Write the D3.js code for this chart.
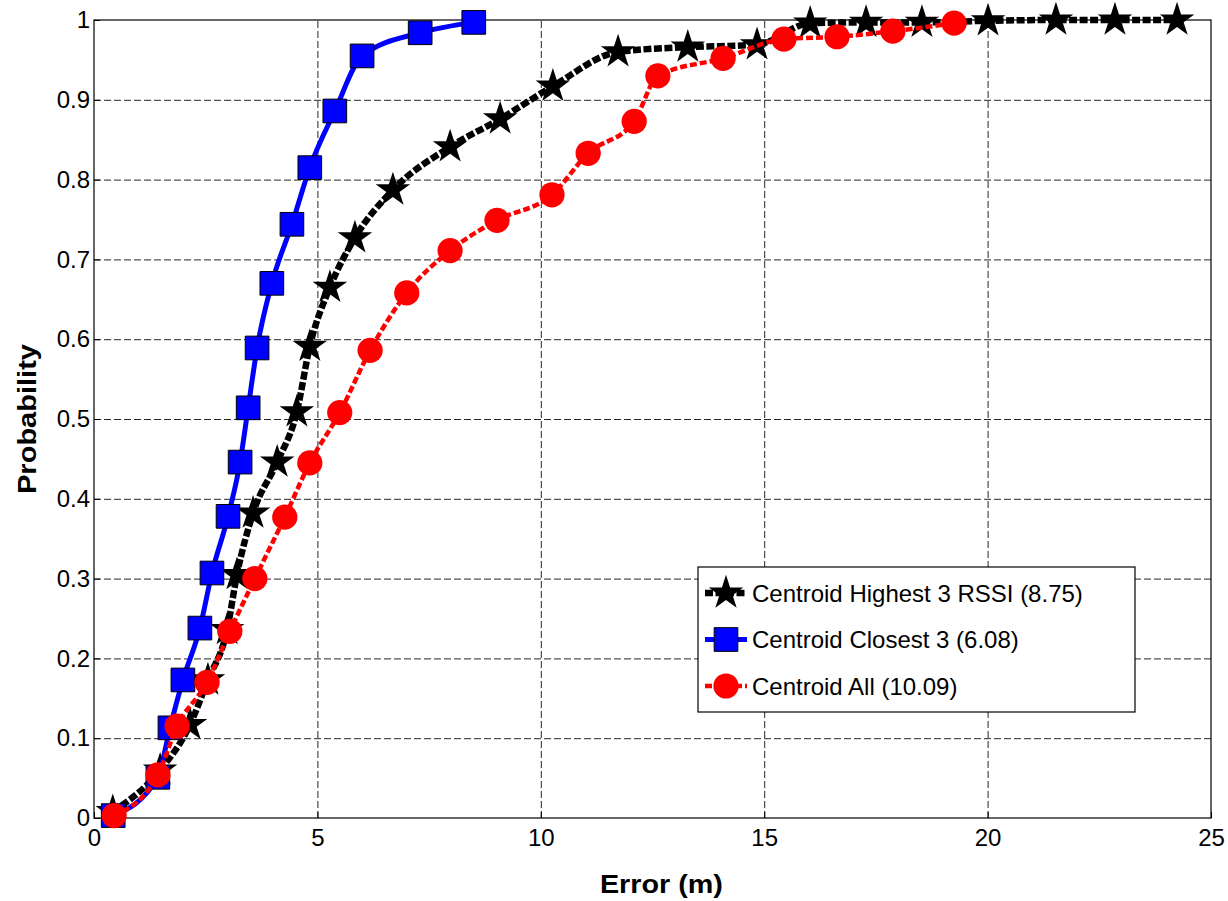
<!DOCTYPE html>
<html>
<head>
<meta charset="utf-8">
<script src="https://cdn.jsdelivr.net/npm/d3@7"></script>
<style>
body { margin: 0; background: #fff; }
svg text { font-family: "Liberation Sans", Arial, Helvetica, sans-serif; fill: #000; }
</style>
</head>
<body>
<svg id="chart"></svg>
<script>
const xTicks = [0, 5, 10, 15, 20, 25];
const yTicks = [0, 0.1, 0.2, 0.3, 0.4, 0.5, 0.6, 0.7, 0.8, 0.9, 1];
const yTickLabels = ['0', '0.1', '0.2', '0.3', '0.4', '0.5', '0.6', '0.7', '0.8', '0.9', '1'];

// Centroid Highest 3 RSSI
const highestErr = [0.42, 1.48, 2.15, 2.55, 2.98, 3.2, 3.56, 4.1, 4.54, 4.83, 5.28, 5.84, 6.69, 7.97, 9.09, 10.27, 11.73, 13.29, 14.84, 16.03, 17.28, 18.53, 20.01, 21.53, 22.85, 24.24];
const highestProb = [0.008, 0.06, 0.117, 0.173, 0.236, 0.305, 0.382, 0.446, 0.509, 0.591, 0.665, 0.727, 0.787, 0.841, 0.876, 0.917, 0.96, 0.966, 0.969, 0.996, 0.997, 0.997, 0.999, 1, 1, 1];

// Centroid Closest 3
const closestErr = [0.43, 1.43, 1.7, 1.99, 2.37, 2.64, 3.0, 3.27, 3.45, 3.65, 3.98, 4.43, 4.83, 5.39, 6.0, 7.3, 8.5];
const closestProb = [0.003, 0.051, 0.113, 0.173, 0.238, 0.307, 0.378, 0.446, 0.514, 0.589, 0.67, 0.744, 0.815, 0.886, 0.955, 0.984, 0.997];

// Centroid All
const allErr = [0.45, 1.43, 1.86, 2.53, 3.04, 3.6, 4.27, 4.83, 5.5, 6.18, 7.0, 7.97, 9.02, 10.25, 11.06, 12.09, 12.62, 14.08, 15.44, 16.63, 17.88, 19.25];
const allProb = [0.003, 0.054, 0.115, 0.17, 0.234, 0.3, 0.377, 0.445, 0.508, 0.586, 0.658, 0.711, 0.749, 0.781, 0.833, 0.873, 0.93, 0.952, 0.976, 0.979, 0.986, 0.996];

const seriesNames = ['Centroid Highest 3 RSSI (8.75)', 'Centroid Closest 3 (6.08)', 'Centroid All (10.09)'];

const chartSize = { width: 1228, height: 901 };
const margin = { left: 94, right: 17, top: 20, bottom: 83 };
const width = chartSize.width - margin.left - margin.right;
const height = chartSize.height - margin.top - margin.bottom;

const series = [
    { name: seriesNames[0], xs: highestErr, ys: highestProb, color: '#000', width: 6.5, dash: '8,2.5',
      symbol: d3.symbolStar, size: 370, fill: '#000', stroke: 'none' },
    { name: seriesNames[1], xs: closestErr, ys: closestProb, color: '#0000ff', width: 5, dash: null,
      symbol: d3.symbolSquare, size: 560, fill: '#0000ff', stroke: '#000' },
    { name: seriesNames[2], xs: allErr, ys: allProb, color: '#ff0000', width: 4.5, dash: '7,3',
      symbol: d3.symbolCircle, size: 500, fill: '#ff0000', stroke: 'none' }
];

const drawChart = () => {
    const svg = d3.select('#chart')
        .attr('width', chartSize.width)
        .attr('height', chartSize.height);

    const g = svg.append('g')
        .attr('transform', `translate(${margin.left},${margin.top})`);

    const x = d3.scaleLinear().domain([0, 25]).range([0, width]);
    const y = d3.scaleLinear().domain([0, 1]).range([height, 0]);

    // grid
    const gridX = g.append('g')
        .attr('transform', `translate(0,${height})`)
        .call(d3.axisBottom(x).tickValues(xTicks.slice(1, -1)).tickSize(-height).tickFormat(''));
    const gridY = g.append('g')
        .call(d3.axisLeft(y).tickValues(yTicks.slice(1, -1)).tickSize(-width).tickFormat(''));
    [gridX, gridY].forEach(gr => {
        gr.select('.domain').remove();
        gr.selectAll('line')
            .attr('stroke', '#262626')
            .attr('stroke-width', 1)
            .attr('stroke-dasharray', '7,3');
    });

    // axes with labels
    const xAxis = g.append('g')
        .attr('transform', `translate(0,${height})`)
        .call(d3.axisBottom(x).tickValues(xTicks).tickSizeInner(-6).tickSizeOuter(0).tickPadding(11));
    const yAxis = g.append('g')
        .call(d3.axisLeft(y).tickValues(yTicks).tickSizeInner(-6).tickSizeOuter(0).tickPadding(4)
            .tickFormat((d, i) => yTickLabels[i]));
    [xAxis, yAxis].forEach(ax => {
        ax.select('.domain').remove();
        ax.selectAll('text').attr('font-size', 24).attr('fill', '#000')
            .style('font-family', '"Liberation Sans", Arial, sans-serif');
        ax.selectAll('line').attr('stroke', '#000');
    });

    // frame
    g.append('rect')
        .attr('width', width)
        .attr('height', height)
        .attr('fill', 'none')
        .attr('stroke', '#000')
        .attr('stroke-width', 1.2);

    // axis titles
    g.append('text')
        .attr('x', x(12.7))
        .attr('y', height + 75)
        .attr('text-anchor', 'middle')
        .attr('font-size', 25)
        .attr('font-weight', 'bold')
        .attr('textLength', 123)
        .attr('lengthAdjust', 'spacingAndGlyphs')
        .text('Error (m)');

    g.append('text')
        .attr('transform', `translate(${36 - margin.left},${y(0.5)}) rotate(-90)`)
        .attr('text-anchor', 'middle')
        .attr('font-size', 25)
        .attr('font-weight', 'bold')
        .attr('textLength', 150)
        .attr('lengthAdjust', 'spacingAndGlyphs')
        .text('Probability');

    // series
    const line = d3.line()
        .x(d => x(d[0]))
        .y(d => y(d[1]))
        .curve(d3.curveMonotoneX);

    series.forEach(s => {
        const pts = s.xs.map((v, i) => [v, s.ys[i]]);
        g.append('path')
            .datum(pts)
            .attr('fill', 'none')
            .attr('stroke', s.color)
            .attr('stroke-width', s.width)
            .attr('stroke-dasharray', s.dash)
            .attr('d', line);
        g.selectAll(null)
            .data(pts)
            .enter()
            .append('path')
            .attr('transform', d => `translate(${x(d[0])},${y(d[1])})`)
            .attr('d', d3.symbol().type(s.symbol).size(s.size))
            .attr('fill', s.fill)
            .attr('stroke', s.stroke)
            .attr('stroke-width', 1);
    });

    // legend
    const legend = svg.append('g').attr('transform', 'translate(698,567)');
    legend.append('rect')
        .attr('width', 437)
        .attr('height', 145)
        .attr('fill', '#fff')
        .attr('stroke', '#000')
        .attr('stroke-width', 1.2);

    const item = legend.selectAll('.item')
        .data(series)
        .enter()
        .append('g')
        .attr('class', 'item')
        .attr('transform', (s, i) => `translate(0,${26 + i * 46.5})`);

    item.append('line')
        .attr('x1', 7)
        .attr('x2', 49)
        .attr('stroke', s => s.color)
        .attr('stroke-width', s => s.width)
        .attr('stroke-dasharray', s => s.dash);

    item.append('path')
        .attr('transform', 'translate(28,0)')
        .attr('d', s => d3.symbol().type(s.symbol).size(s.size)())
        .attr('fill', s => s.fill)
        .attr('stroke', s => s.stroke)
        .attr('stroke-width', 1);

    item.append('text')
        .attr('x', 54)
        .attr('dy', '0.36em')
        .attr('font-size', 24)
        .text(s => s.name);
};

drawChart();
</script>
</body>
</html>
